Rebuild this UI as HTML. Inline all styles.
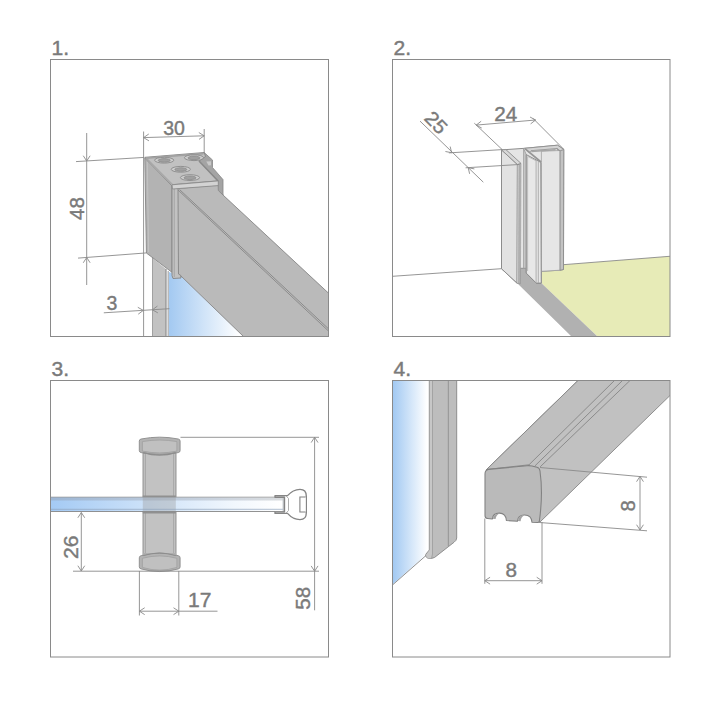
<!DOCTYPE html>
<html><head><meta charset="utf-8"><title>Installation dimensions</title>
<style>
html,body{margin:0;padding:0;background:#fff;}
body{width:720px;height:720px;overflow:hidden;font-family:"Liberation Sans",sans-serif;}
svg{display:block;position:absolute;left:0;top:0;}
svg text{font-family:"Liberation Sans",sans-serif;}
</style></head><body>
<svg width="720" height="720" viewBox="0 0 720 720">
<defs>
<linearGradient id="g1" gradientUnits="userSpaceOnUse" x1="169" y1="0" x2="240" y2="0"><stop offset="0" stop-color="#a3c9f1"/><stop offset="1" stop-color="#ffffff"/></linearGradient>
<linearGradient id="g3" gradientUnits="userSpaceOnUse" x1="50" y1="0" x2="280" y2="0"><stop offset="0" stop-color="#a4caf4"/><stop offset="0.8" stop-color="#f1f7fd"/><stop offset="1" stop-color="#ffffff"/></linearGradient>
<linearGradient id="g3b" gradientUnits="userSpaceOnUse" x1="50" y1="0" x2="280" y2="0"><stop offset="0" stop-color="#9cb6d5"/><stop offset="0.8" stop-color="#cfd6df"/><stop offset="1" stop-color="#d9dcdf"/></linearGradient>
<linearGradient id="g4" gradientUnits="userSpaceOnUse" x1="393" y1="0" x2="427" y2="0"><stop offset="0" stop-color="#a2c9f2"/><stop offset="1" stop-color="#ffffff"/></linearGradient>
<clipPath id="c1"><rect x="50.5" y="59.5" width="278" height="277"/></clipPath>
<clipPath id="c2"><rect x="392.5" y="59.5" width="277.5" height="277"/></clipPath>
<clipPath id="c3"><rect x="50.5" y="380.5" width="278" height="276.5"/></clipPath>
<clipPath id="c4"><rect x="392.5" y="380.5" width="277.5" height="276.5"/></clipPath>
</defs>
<rect width="720" height="720" fill="#fff"/>
<text transform="translate(51.5 54.8) scale(1.08 1)" font-size="19.5" text-anchor="start" fill="#7a7a7a" stroke="#7a7a7a" stroke-width="0.4">1.</text>
<text transform="translate(393.5 54.8) scale(1.08 1)" font-size="19.5" text-anchor="start" fill="#7a7a7a" stroke="#7a7a7a" stroke-width="0.4">2.</text>
<text transform="translate(51.5 375.8) scale(1.08 1)" font-size="19.5" text-anchor="start" fill="#7a7a7a" stroke="#7a7a7a" stroke-width="0.4">3.</text>
<text transform="translate(393.5 375.8) scale(1.08 1)" font-size="19.5" text-anchor="start" fill="#7a7a7a" stroke="#7a7a7a" stroke-width="0.4">4.</text>
<g clip-path="url(#c1)">
<path d="M152.5 258L166 269L166 337L152.5 337Z" fill="#c2c2c2" stroke="none" stroke-width="0.9" stroke-linejoin="round" />
<path d="M152.5 257L152.5 337" stroke="#9a9a9a" stroke-width="0.9" fill="none"/>
<path d="M166 269L166 337" stroke="#8e8e8e" stroke-width="1.2" fill="none"/>
<path d="M168.2 271L168.2 337" stroke="#a8a8a8" stroke-width="1.2" fill="none"/>
<path d="M169 272L181 276L244 336.5L169 336.5Z" fill="url(#g1)" stroke="none" stroke-width="0.9" stroke-linejoin="round" />
<path d="M177.5 188.5L218 185L223 195L329 293.6L329 337L244 337L181 276L177.5 276Z" fill="#bababa" stroke="#868686" stroke-width="0.9" stroke-linejoin="round" />
<path d="M177.5 189.5L329 331.5" stroke="#868686" stroke-width="0.9" fill="none"/>
<path d="M179.5 189.5L329 329.3" stroke="#868686" stroke-width="0.9" fill="none"/>
<path d="M144.8 158L172 186L172 272.3L146.4 253Z" fill="#b3b3b3" stroke="#868686" stroke-width="0.9" stroke-linejoin="round" />
<path d="M147.3 162L148.6 252" stroke="#c6c6c6" stroke-width="0.8" fill="none"/>
<path d="M172 186L178 188.5L178.5 274Q181.5 274.5 181 278L173 278.5Q171.5 276 172 272Z" fill="#c2c2c2" stroke="#868686" stroke-width="0.9"/>
<path d="M174.3 188L174.3 277" stroke="#a0a0a0" stroke-width="0.8" fill="none"/>
<path d="M204.2 152.5L212.5 160L212.5 167.5L223 179.6L223 195L218.3 190.5L218 181L199 161L200 155Z" fill="#a4a4a4" stroke="#868686" stroke-width="0.8" stroke-linejoin="round" />
<path d="M206.3 161.5L211 161.2L211 165.3L208.5 165.5Z" fill="#c9c9c9" stroke="none" stroke-width="0.9" stroke-linejoin="round" />
<path d="M145 157.3L204.2 152.5L205.5 156.5L199 161L218 180.9L172 184.7Z" fill="#c1c1c1" stroke="#868686" stroke-width="0.9" stroke-linejoin="round" />
<path d="M146 158.2L203.5 153.6" stroke="#a2a2a2" stroke-width="1.6" fill="none"/>
<path d="M199 161L218 180.9" stroke="#8a8a8a" stroke-width="1.5" fill="none"/>
<path d="M146.5 158.5L172.3 184.5" stroke="#a8a8a8" stroke-width="1.6" fill="none"/>
<path d="M172 184.8L218.3 180.9L218.3 185.6L172.5 189Z" fill="#d3d3d3" stroke="#868686" stroke-width="0.8" stroke-linejoin="round" />
<ellipse cx="164.2" cy="160.2" rx="9.6" ry="2.9" fill="#cdcdcd" stroke="#8a8a8a" stroke-width="0.9"/>
<ellipse cx="164.2" cy="160.39999999999998" rx="6" ry="1.8" fill="#a0a0a0" stroke="#858585" stroke-width="0.7"/>
<ellipse cx="194" cy="157.7" rx="9.6" ry="2.9" fill="#cdcdcd" stroke="#8a8a8a" stroke-width="0.9"/>
<ellipse cx="194" cy="157.89999999999998" rx="6" ry="1.8" fill="#a0a0a0" stroke="#858585" stroke-width="0.7"/>
<ellipse cx="180.8" cy="169.3" rx="9.6" ry="2.9" fill="#cdcdcd" stroke="#8a8a8a" stroke-width="0.9"/>
<ellipse cx="180.8" cy="169.5" rx="6" ry="1.8" fill="#a0a0a0" stroke="#858585" stroke-width="0.7"/>
<ellipse cx="190" cy="177.6" rx="9.6" ry="2.9" fill="#cdcdcd" stroke="#8a8a8a" stroke-width="0.9"/>
<ellipse cx="190" cy="177.79999999999998" rx="6" ry="1.8" fill="#a0a0a0" stroke="#858585" stroke-width="0.7"/>
<path d="M143.6 131.5L143.6 337" stroke="#8a8a8a" stroke-width="0.9" fill="none"/>
<path d="M204.2 129L204.2 153.5" stroke="#8a8a8a" stroke-width="0.9" fill="none"/>
<path d="M143.6 137.6L204.2 135.8" stroke="#8a8a8a" stroke-width="0.9" fill="none"/>
<path d="M143.60 137.60L148.98 140.87M143.60 137.60L148.78 134.01" stroke="#8a8a8a" stroke-width="0.9" fill="none"/>
<path d="M204.20 135.80L198.82 132.53M204.20 135.80L199.02 139.39" stroke="#8a8a8a" stroke-width="0.9" fill="none"/>
<text transform="translate(174 134.6)" font-size="19.5" text-anchor="middle" fill="#7a7a7a" stroke="#7a7a7a" stroke-width="0.4">30</text>
<path d="M86.7 133L86.7 285" stroke="#8a8a8a" stroke-width="0.9" fill="none"/>
<path d="M76 161.6L144.5 157.4" stroke="#8a8a8a" stroke-width="0.9" fill="none"/>
<path d="M78 258.1L146.5 252.9" stroke="#8a8a8a" stroke-width="0.9" fill="none"/>
<path d="M86.70 161.00L90.13 155.72M86.70 161.00L83.27 155.72" stroke="#8a8a8a" stroke-width="0.9" fill="none"/>
<path d="M86.70 257.50L83.27 262.78M86.70 257.50L90.13 262.78" stroke="#8a8a8a" stroke-width="0.9" fill="none"/>
<text transform="translate(84 208.6) rotate(-90) scale(1.05 1)" font-size="19.5" text-anchor="middle" fill="#7a7a7a" stroke="#7a7a7a" stroke-width="0.4">48</text>
<path d="M103.8 312.8L169.4 308.7" stroke="#8a8a8a" stroke-width="0.9" fill="none"/>
<path d="M143.30 310.40L137.81 307.31M143.30 310.40L138.24 314.16" stroke="#8a8a8a" stroke-width="0.9" fill="none"/>
<path d="M152.40 309.80L157.89 312.89M152.40 309.80L157.46 306.04" stroke="#8a8a8a" stroke-width="0.9" fill="none"/>
<text transform="translate(112 309.8)" font-size="19.5" text-anchor="middle" fill="#7a7a7a" stroke="#7a7a7a" stroke-width="0.4">3</text>
</g>
<rect x="50.5" y="59.5" width="278" height="277" fill="none" stroke="#8a8a8a" stroke-width="1"/>
<g clip-path="url(#c2)">
<path d="M392.5 276.3L501.5 268.7" stroke="#8a8a8a" stroke-width="0.9" fill="none"/>
<path d="M541.25 283.1L541.25 270L563 269L563.5 264.7L671 256.2L671 337L598 337Z" fill="#e7ebb7" stroke="none" stroke-width="0.9" stroke-linejoin="round" />
<path d="M563.3 264.7L671 256.2" stroke="#8a8a8a" stroke-width="0.9" fill="none"/>
<path d="M517 283.1L520 283.7L520 268.3L526.25 268.3L526.25 273.1L536.25 283.1L541.25 283.1L598 337L572 337Z" fill="#b1b1b1" stroke="none" stroke-width="0.9" stroke-linejoin="round" />
<path d="M501.5 149.9L524.7 148.3L557.5 145.2L563.75 149.4L563.5 269.5L560 270.2L541.3 271.3L541.25 283.1L536.25 283.1L526.25 273.1L526.25 268.3L520 268.3L520 283.75L517 283.1L501.5 268.75Z" fill="#e5e5e5" stroke="#8c8c8c" stroke-width="1" stroke-linejoin="round" />
<path d="M541.4 162.4L541.4 151.2L560.1 150.5L560.1 270.2L541.4 271.3Z" fill="#e6e6e6" stroke="#a2a2a2" stroke-width="0.8" stroke-linejoin="round" />
<path d="M560.1 150.5L563.75 149.4L563.5 269.5L560.1 270.2Z" fill="#c3c3c3" stroke="#8c8c8c" stroke-width="0.8" stroke-linejoin="round" />
<path d="M524.7 148.3L557.5 145.2L563.75 149.4L560.1 150.8L557 148.5L531 150.7L529.3 152.6Z" fill="#d4d4d4" stroke="#8c8c8c" stroke-width="0.8" stroke-linejoin="round" />
<path d="M531.3 151.6L555.6 149.7" stroke="#a6a6a6" stroke-width="1.5" fill="none"/>
<path d="M556.5 148.2L558.6 150.6" stroke="#9a9a9a" stroke-width="1.2" fill="none"/>
<path d="M501.5 149.9L517.4 164.5L517 283.1L501.5 268.75Z" fill="#e2e2e2" stroke="#8c8c8c" stroke-width="1" stroke-linejoin="round" />
<path d="M517.4 164.5L519.2 164L518.8 283.5L517 283.1Z" fill="#dcdcdc" stroke="#9a9a9a" stroke-width="0.6" stroke-linejoin="round" />
<path d="M519.2 164L521 163.4L520.4 283.75L518.8 283.5Z" fill="#b6b6b6" stroke="#9a9a9a" stroke-width="0.6" stroke-linejoin="round" />
<path d="M501.5 149.9L505.9 149.6L521 163.4L517.4 164.5Z" fill="#d8d8d8" stroke="#8c8c8c" stroke-width="0.9" stroke-linejoin="round" />
<path d="M523.6 148.4L526.25 154.6L526.25 268.3L523.6 268.3Z" fill="#c8c8c8" stroke="#9a9a9a" stroke-width="0.8" stroke-linejoin="round" />
<path d="M526.25 154.6L540.8 162.4L541.25 283.1L536.25 283.1L526.25 273.1Z" fill="#e8e8e8" stroke="#8c8c8c" stroke-width="1" stroke-linejoin="round" />
<path d="M525.2 148.8L541 162" stroke="#969696" stroke-width="1.7" fill="none"/>
<path d="M536.1 160.5L536.1 283" stroke="#a8a8a8" stroke-width="0.9" fill="none"/>
<path d="M538.3 161.5L538.3 283" stroke="#a8a8a8" stroke-width="0.9" fill="none"/>
<path d="M527.6 156.5L527.6 271" stroke="#b0b0b0" stroke-width="0.8" fill="none"/>
<path d="M527.6 156.3L536.1 160.8" stroke="#b0b0b0" stroke-width="0.8" fill="none"/>
<path d="M474.3 123.2L502.2 149.6" stroke="#8a8a8a" stroke-width="0.9" fill="none"/>
<path d="M533 118.4L563.3 148.8" stroke="#8a8a8a" stroke-width="0.9" fill="none"/>
<path d="M476.2 125.1L535.6 120" stroke="#8a8a8a" stroke-width="0.9" fill="none"/>
<path d="M476.20 125.10L481.76 128.07M476.20 125.10L481.17 121.23" stroke="#8a8a8a" stroke-width="0.9" fill="none"/>
<path d="M535.60 120.00L530.04 117.03M535.60 120.00L530.63 123.87" stroke="#8a8a8a" stroke-width="0.9" fill="none"/>
<text transform="translate(505.8 120.6) scale(1.06 1)" font-size="19.5" text-anchor="middle" fill="#7a7a7a" stroke="#7a7a7a" stroke-width="0.4">24</text>
<path d="M420 121.1L483.3 182.2" stroke="#8a8a8a" stroke-width="0.9" fill="none"/>
<path d="M448.9 152.9L502.2 149.6" stroke="#8a8a8a" stroke-width="0.9" fill="none"/>
<path d="M465.6 167.8L518.9 164.5" stroke="#8a8a8a" stroke-width="0.9" fill="none"/>
<path d="M451.60 152.70L450.18 146.56M451.60 152.70L445.42 151.50" stroke="#8a8a8a" stroke-width="0.9" fill="none"/>
<path d="M468.20 167.70L469.62 173.84M468.20 167.70L474.38 168.90" stroke="#8a8a8a" stroke-width="0.9" fill="none"/>
<text transform="translate(431.3 127.2) rotate(46) scale(1.06 1)" font-size="19.5" text-anchor="middle" fill="#7a7a7a" stroke="#7a7a7a" stroke-width="0.4">25</text>
</g>
<rect x="392.5" y="59.5" width="277.5" height="277" fill="none" stroke="#8a8a8a" stroke-width="1"/>
<g clip-path="url(#c3)">
<rect x="143" y="450" width="33" height="108" fill="#c2c2c2" stroke="#8a8a8a" stroke-width="0.9"/>
<path d="M145.4 452L145.4 556" stroke="#a0a0a0" stroke-width="0.8" fill="none"/>
<path d="M173.6 452L173.6 556" stroke="#a0a0a0" stroke-width="0.8" fill="none"/>
<path d="M139.3 441.1Q139.3 439.3 141.10000000000002 439.0Q159.7 435.3 178.29999999999998 439.0Q180.1 439.3 180.1 441.1L180.1 450.5Q180.1 452.3 178.29999999999998 452.6Q159.7 456.09999999999997 141.10000000000002 452.6Q139.3 452.3 139.3 450.5Z" fill="#b3b3b3" stroke="#8a8a8a" stroke-width="0.9"/><path d="M142.4 441.6Q159.7 438.5 176.9 441.6L176.9 451.1Q159.7 454.7 142.4 451.1Z" fill="#c0c0c0" stroke="#9c9c9c" stroke-width="0.7"/>
<path d="M143.2 452.6Q159.5 457.6 175.8 452.6" fill="none" stroke="#8d8d8d" stroke-width="1.2"/>
<path d="M139.3 557.8Q139.3 556 141.10000000000002 555.7Q159.7 550.4000000000001 178.29999999999998 555.7Q180.1 556 180.1 557.8L180.1 566.8000000000001Q180.1 568.6 178.29999999999998 568.9Q159.7 574.1999999999999 141.10000000000002 568.9Q139.3 568.6 139.3 566.8000000000001Z" fill="#b3b3b3" stroke="#8a8a8a" stroke-width="0.9"/><path d="M142.4 558.3Q159.7 553.6000000000001 176.9 558.3L176.9 567.4Q159.7 572.8 142.4 567.4Z" fill="#c0c0c0" stroke="#9c9c9c" stroke-width="0.7"/>
<path d="M143.2 555.6Q159.5 550.6 175.8 555.6L175.8 553L143.2 553Z" fill="#aeaeae" stroke="none"/>
<path d="M143.2 555.6Q159.5 550.6 175.8 555.6" fill="none" stroke="#8d8d8d" stroke-width="1"/>
<rect x="49" y="497.2" width="236" height="14.3" fill="url(#g3)" stroke="#878787" stroke-width="0.9"/>
<rect x="49" y="497.7" width="235" height="2.8" fill="url(#g3b)"/>
<rect x="142.8" y="497.7" width="33" height="13.4" fill="#9a9a9a" opacity="0.38"/>
<path d="M49 509.3L284 509.3" stroke="#8fa3bd" stroke-width="0.7" fill="none"/>
<path d="M142.8 496.4L175.8 496.4" stroke="#909090" stroke-width="1.6" fill="none"/>
<path d="M142.8 512.6L175.8 512.6" stroke="#909090" stroke-width="1.6" fill="none"/>
<rect x="282.6" y="497.8" width="2.6" height="13.2" fill="#c4c8cc"/>
<path d="M275 495.6L287.5 495.6Q293 489.4 300 489.3Q306.3 489.3 306.3 496L306.3 513Q306.3 519.6 300 519.6Q293 519.6 287.5 513.4L275 513.4L275 511.8L284.5 511.8L284.5 497.2L275 497.2Z" fill="#ffffff" stroke="#858585" stroke-width="1.35" stroke-linejoin="round"/>
<path d="M286.2 496L288.5 498.5L288.5 510.5L286.2 513" fill="none" stroke="#9a9a9a" stroke-width="0.8"/>
<path d="M305.6 497L299.9 497L299.9 512L305.6 512" fill="#fff" stroke="#828282" stroke-width="1.1"/>
<path d="M180.5 437.3L319 437.3" stroke="#8a8a8a" stroke-width="0.9" fill="none"/>
<path d="M73 571.2L319 571.2" stroke="#8a8a8a" stroke-width="0.9" fill="none"/>
<path d="M314.6 437.3L314.6 610.3" stroke="#8a8a8a" stroke-width="0.9" fill="none"/>
<path d="M314.60 437.30L311.17 442.58M314.60 437.30L318.03 442.58" stroke="#8a8a8a" stroke-width="0.9" fill="none"/>
<path d="M314.60 571.20L318.03 565.92M314.60 571.20L311.17 565.92" stroke="#8a8a8a" stroke-width="0.9" fill="none"/>
<text transform="translate(310.3 598.2) rotate(-90) scale(1.06 1)" font-size="19.5" text-anchor="middle" fill="#7a7a7a" stroke="#7a7a7a" stroke-width="0.4">58</text>
<path d="M81.3 512.5L81.3 571" stroke="#8a8a8a" stroke-width="0.9" fill="none"/>
<path d="M81.30 512.50L77.87 517.78M81.30 512.50L84.73 517.78" stroke="#8a8a8a" stroke-width="0.9" fill="none"/>
<path d="M81.30 571.00L84.73 565.72M81.30 571.00L77.87 565.72" stroke="#8a8a8a" stroke-width="0.9" fill="none"/>
<text transform="translate(77.7 547.3) rotate(-90) scale(1.09 1)" font-size="19.5" text-anchor="middle" fill="#7a7a7a" stroke="#7a7a7a" stroke-width="0.4">26</text>
<path d="M139.4 571L139.4 615.5" stroke="#8a8a8a" stroke-width="0.9" fill="none"/>
<path d="M178.8 571L178.8 615.5" stroke="#8a8a8a" stroke-width="0.9" fill="none"/>
<path d="M139.4 611.2L217.5 611.2" stroke="#8a8a8a" stroke-width="0.9" fill="none"/>
<path d="M139.40 611.20L144.68 614.63M139.40 611.20L144.68 607.77" stroke="#8a8a8a" stroke-width="0.9" fill="none"/>
<path d="M178.80 611.20L173.52 607.77M178.80 611.20L173.52 614.63" stroke="#8a8a8a" stroke-width="0.9" fill="none"/>
<text transform="translate(199.8 607.4) scale(1.08 1)" font-size="19.5" text-anchor="middle" fill="#7a7a7a" stroke="#7a7a7a" stroke-width="0.4">17</text>
</g>
<rect x="50.5" y="380.5" width="278" height="276.5" fill="none" stroke="#8a8a8a" stroke-width="1"/>
<g clip-path="url(#c4)">
<path d="M392 380L429 380L429 552L392 585Z" fill="url(#g4)" stroke="none" stroke-width="0.9" stroke-linejoin="round" />
<path d="M392.5 585L430 552" stroke="#868686" stroke-width="0.9" fill="none"/>
<path d="M429.3 380L456.7 380L456.7 538Q456.6 540.5 454 542.3L434.5 557.5Q431 559.3 427.5 558Q424.5 556.5 426 554L429.3 550Z" fill="#bdbdbd" stroke="#868686" stroke-width="0.9"/>
<path d="M429.8 380L429.8 550L426.3 554.5Q425.5 556.5 428 558L431.5 558.6L432.5 554L432.5 380Z" fill="#c7c7c7" stroke="none"/>
<path d="M432.5 380L432.5 554L431.5 558.5" fill="none" stroke="#9a9a9a" stroke-width="0.8"/>
<path d="M448.3 380L448.3 546" fill="none" stroke="#8f8f8f" stroke-width="0.9"/>
<path d="M486.5 469.5L578.5 380L671 380L671 394.5L539.5 522.5L530 466Z" fill="#c1c1c1" stroke="#868686" stroke-width="0.9" stroke-linejoin="round" />
<path d="M486.5 469.5L578.5 380L615 380L529 464.8Z" fill="#bfbfbf" stroke="#868686" stroke-width="0.9" stroke-linejoin="round" />
<path d="M534.8 466L623 380" stroke="#868686" stroke-width="0.9" fill="none"/>
<path d="M540.2 466.8L630.5 380" stroke="#868686" stroke-width="0.9" fill="none"/>
<path d="M485 474Q485 470 488.5 469.4L527 465.7Q529.5 465.5 532 466L537 467.3Q539.6 468 540 471Q543.2 494 539.3 521.5Q539 522.6 537.5 522.5L532 522.3Q531.6 515.3 524.6 515Q518 514.8 517.4 521.2L506.4 520.5Q506 513.4 499.4 513.1Q493 513 492.4 519L487.5 518.5Q485 518.3 485 515.5Z" fill="#bababa" stroke="#828282" stroke-width="1.1" stroke-linejoin="round"/>
<path d="M492.9 518.8Q493.3 513.5 499.4 513.4Q496 515 495.6 519Z" fill="#a2a2a2" stroke="none"/>
<path d="M517.9 521Q518.3 515.3 524.6 515.3Q521 517 520.6 521.3Z" fill="#a2a2a2" stroke="none"/>
<path d="M484.8 518.5L484.8 583.8" stroke="#8a8a8a" stroke-width="0.9" fill="none"/>
<path d="M542 522L542 583.8" stroke="#8a8a8a" stroke-width="0.9" fill="none"/>
<path d="M484.8 580.7L542 580.7" stroke="#8a8a8a" stroke-width="0.9" fill="none"/>
<path d="M484.80 580.70L490.08 584.13M484.80 580.70L490.08 577.27" stroke="#8a8a8a" stroke-width="0.9" fill="none"/>
<path d="M542.00 580.70L536.72 577.27M542.00 580.70L536.72 584.13" stroke="#8a8a8a" stroke-width="0.9" fill="none"/>
<text transform="translate(511.2 576.7) scale(1.06 1)" font-size="19.5" text-anchor="middle" fill="#7a7a7a" stroke="#7a7a7a" stroke-width="0.4">8</text>
<path d="M540 467.5L647 477.2" stroke="#8a8a8a" stroke-width="0.9" fill="none"/>
<path d="M539.5 522.5L647 530.8" stroke="#8a8a8a" stroke-width="0.9" fill="none"/>
<path d="M640 476.4L640 530" stroke="#8a8a8a" stroke-width="0.9" fill="none"/>
<path d="M640.00 476.40L636.57 481.68M640.00 476.40L643.43 481.68" stroke="#8a8a8a" stroke-width="0.9" fill="none"/>
<path d="M640.00 530.00L643.43 524.72M640.00 530.00L636.57 524.72" stroke="#8a8a8a" stroke-width="0.9" fill="none"/>
<text transform="translate(635.3 505.8) rotate(-90) scale(1.04 1)" font-size="19.5" text-anchor="middle" fill="#7a7a7a" stroke="#7a7a7a" stroke-width="0.4">8</text>
</g>
<rect x="392.5" y="380.5" width="277.5" height="276.5" fill="none" stroke="#8a8a8a" stroke-width="1"/>
</svg>
</body></html>
